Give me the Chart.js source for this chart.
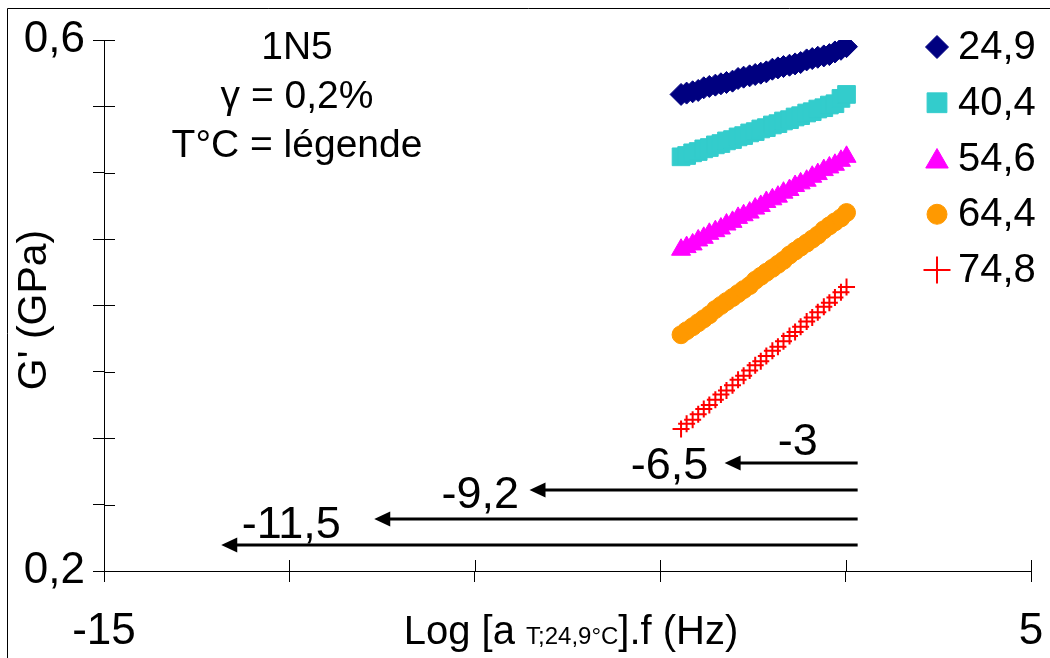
<!DOCTYPE html>
<html><head><meta charset="utf-8">
<script src="https://cdn.jsdelivr.net/npm/chart.js@4/dist/chart.umd.min.js"></script>
<style>html,body{margin:0;padding:0;background:#fff}#wrap{width:1050px;height:658px;position:relative}canvas{display:block}</style>
</head><body><div id="wrap"><canvas id="c" width="1050" height="658"></canvas></div>
<script>
// ---- data ----
const freqLog = [-2.55,-2.43,-2.30,-2.18,-2.06,-1.94,-1.81,-1.69,-1.57,-1.44,-1.32,-1.20,-1.07,-0.95,-0.83,-0.71,-0.58,-0.46,-0.34,-0.21,-0.09,0.03,0.16,0.28,0.40,0.53,0.65,0.77,0.90,1.02];
const g249 = [0.559,0.560,0.561,0.562,0.564,0.565,0.566,0.567,0.568,0.569,0.571,0.572,0.573,0.574,0.575,0.576,0.578,0.579,0.580,0.581,0.582,0.583,0.585,0.586,0.587,0.588,0.589,0.591,0.593,0.595];
const g404 = [0.512,0.513,0.515,0.516,0.518,0.519,0.521,0.522,0.524,0.525,0.527,0.528,0.530,0.531,0.533,0.534,0.536,0.537,0.539,0.540,0.542,0.543,0.545,0.546,0.548,0.549,0.551,0.552,0.556,0.559];
const g546 = [0.442,0.444,0.446,0.449,0.451,0.454,0.456,0.458,0.461,0.463,0.466,0.468,0.470,0.473,0.475,0.478,0.480,0.482,0.485,0.487,0.490,0.492,0.494,0.497,0.499,0.502,0.504,0.506,0.509,0.512];
const g644 = [0.378,0.381,0.384,0.387,0.390,0.393,0.397,0.400,0.403,0.406,0.409,0.412,0.415,0.419,0.422,0.425,0.428,0.431,0.434,0.438,0.441,0.444,0.447,0.450,0.453,0.457,0.460,0.463,0.466,0.470];
const g748 = [0.307,0.311,0.314,0.318,0.322,0.325,0.329,0.333,0.336,0.340,0.344,0.347,0.351,0.355,0.358,0.362,0.366,0.369,0.373,0.377,0.380,0.384,0.388,0.391,0.395,0.399,0.402,0.406,0.410,0.414];
const seriesLabels = ['24,9','40,4','54,6','64,4','74,8'];
const xTickValues = [-15,-11,-7,-3,1,5];
const xTickLabels = ['-15','','','','','5'];
const yTickValues = [0.2,0.25,0.3,0.35,0.4,0.45,0.5,0.55,0.6];
const yTickLabels = ['0,2','','','','','','','','0,6'];
const shiftLabels = ['-3','-6,5','-9,2','-11,5'];
const arrowLevels = [0.2814,0.2610,0.2392,0.2196];
const arrowFrom = [1.26,1.26,1.26,1.26];
const arrowTo = [-1.61,-5.82,-9.17,-12.47];
const shiftLabelX = [-0.03,-2.80,-6.88,-10.96];
const shiftLabelY = [0.297,0.279,0.257,0.234];
const noteLines = ['1N5','\u03B3 = 0,2%','T\u00B0C = l\u00E9gende'];
const yTitle = "G' (GPa)";
const xTitleParts = ['Log [a ', 'T;24,9\u00B0C', '].f (Hz)'];

// ---- styling ----
const FAM = "'Liberation Sans', Arial, sans-serif";
const looks = [
  {color:'#000080', style:'rectRot', r:11,   lr:11.5, bw:1},
  {color:'#33CCCC', style:'rect',    r:12.5, lr:14,   bw:1},
  {color:'#FF00FF', style:'triangle',r:11,   lr:13,   bw:1},
  {color:'#FF9900', style:'circle',  r:9,    lr:10,   bw:1},
  {color:'#FF0000', style:'cross',   r:8.5,  lr:13.5, bw:2}
];
const seriesValues = [g249,g404,g546,g644,g748];

const datasets = seriesValues.map((vals, k) => ({
  label: seriesLabels[k],
  data: freqLog.map((x, i) => ({x: x, y: vals[i]})),
  showLine: false,
  pointStyle: looks[k].style,
  pointRadius: looks[k].r,
  pointHoverRadius: looks[k].r,
  backgroundColor: looks[k].color,
  borderColor: looks[k].color,
  borderWidth: looks[k].bw
}));

function drawMarker(ctx, look, x, y, r) {
  ctx.save();
  ctx.fillStyle = look.color; ctx.strokeStyle = look.color; ctx.lineWidth = look.bw;
  if (Chart.helpers && Chart.helpers.drawPoint) {
    Chart.helpers.drawPoint(ctx, {pointStyle: look.style, radius: r, rotation: 0, borderWidth: look.bw}, x, y);
  }
  ctx.restore();
}
function noPad(s) { s.paddingLeft = 0; s.paddingRight = 0; s.paddingTop = 0; s.paddingBottom = 0; }

const decor = {
  id: 'decor',
  afterDraw(chart) {
    const ctx = chart.ctx, xs = chart.scales.x, ys = chart.scales.y, ca = chart.chartArea;
    ctx.save();
    // outer frame (top + left)
    ctx.strokeStyle = '#000'; ctx.lineWidth = 1;
    ctx.beginPath(); ctx.moveTo(7.5, 658); ctx.lineTo(7.5, 8.5); ctx.lineTo(1050, 8.5); ctx.stroke();
    // inner halves of tick marks
    ctx.beginPath();
    xs.ticks.forEach((t, i) => { const px = Math.round(xs.getPixelForTick(i)) + 0.5; ctx.moveTo(px, ca.bottom); ctx.lineTo(px, ca.bottom - 11); });
    ys.ticks.forEach((t, i) => { const py = Math.round(ys.getPixelForTick(i)) + 0.5; ctx.moveTo(ca.left, py); ctx.lineTo(ca.left + 11, py); });
    ctx.stroke();
    // shift arrows
    ctx.fillStyle = '#000'; ctx.strokeStyle = '#000'; ctx.lineWidth = 3;
    arrowLevels.forEach((lv, i) => {
      const py = ys.getPixelForValue(lv), x0 = xs.getPixelForValue(arrowFrom[i]), x1 = xs.getPixelForValue(arrowTo[i]);
      ctx.beginPath(); ctx.moveTo(x0, py); ctx.lineTo(x1 + 12, py); ctx.stroke();
      ctx.beginPath(); ctx.moveTo(x1, py); ctx.lineTo(x1 + 16, py - 7.5); ctx.lineTo(x1 + 16, py + 7.5); ctx.closePath(); ctx.fill();
    });
    ctx.font = '45px ' + FAM; ctx.textAlign = 'center'; ctx.textBaseline = 'middle';
    shiftLabels.forEach((s, i) => ctx.fillText(s, xs.getPixelForValue(shiftLabelX[i]), ys.getPixelForValue(shiftLabelY[i])));
    // note block
    ctx.font = '39px ' + FAM; ctx.textBaseline = 'alphabetic';
    const noteBase = [59, 108, 157];
    noteLines.forEach((s, i) => ctx.fillText(s, 297, noteBase[i]));
    // legend
    ctx.font = '40px ' + FAM; ctx.textAlign = 'left'; ctx.textBaseline = 'middle';
    seriesLabels.forEach((s, k) => {
      const cy = 47 + k * 55.75;
      const my = looks[k].style === 'triangle' ? cy + 3 : cy;
      drawMarker(ctx, looks[k], 937, my, looks[k].lr);
      ctx.fillStyle = '#000';
      ctx.fillText(s, 958, cy + 1);
    });
    // y title
    ctx.save(); ctx.translate(35, 310); ctx.rotate(-Math.PI / 2);
    ctx.textAlign = 'center'; ctx.textBaseline = 'middle'; ctx.font = '41px ' + FAM;
    ctx.fillText(yTitle, 0, 0); ctx.restore();
    // x title with subscript part
    const big = '40px ' + FAM, small = '24px ' + FAM;
    ctx.textAlign = 'left'; ctx.textBaseline = 'alphabetic';
    ctx.font = big; const w0 = ctx.measureText(xTitleParts[0]).width, w2 = ctx.measureText(xTitleParts[2]).width;
    ctx.font = small; const w1 = ctx.measureText(xTitleParts[1]).width;
    let tx = 571 - (w0 + w1 + w2) / 2; const base = 644;
    ctx.font = big; ctx.fillText(xTitleParts[0], tx, base); tx += w0;
    ctx.font = small; ctx.fillText(xTitleParts[1], tx, base); tx += w1;
    ctx.font = big; ctx.fillText(xTitleParts[2], tx, base);
    ctx.restore();
  }
};

new Chart(document.getElementById('c'), {
  type: 'scatter',
  data: { datasets: datasets },
  options: {
    responsive: false, animation: false,
    layout: { padding: { left: 0, top: 40, right: 19, bottom: 0 } },
    plugins: { legend: { display: false }, tooltip: { enabled: false } },
    scales: {
      x: {
        type: 'linear', min: -15, max: 5,
        afterBuildTicks: s => { s.ticks = xTickValues.map(v => ({value: v})); },
        afterFit: s => { s.height = 87; noPad(s); },
        ticks: { autoSkip: false, maxRotation: 0, padding: 23, color: '#000', font: { family: FAM, size: 44 },
                 callback: (v, i) => xTickLabels[i] },
        grid: { display: true, drawOnChartArea: false, drawTicks: true, tickLength: 11, color: '#000', lineWidth: 1 },
        border: { display: true, color: '#000', width: 1 }
      },
      y: {
        type: 'linear', min: 0.2, max: 0.6,
        afterBuildTicks: s => { s.ticks = yTickValues.map(v => ({value: v})); },
        afterFit: s => { s.width = 104; noPad(s); },
        ticks: { autoSkip: false, padding: 8, color: '#000', font: { family: FAM, size: 44 },
                 callback: (v, i) => yTickLabels[i] },
        grid: { display: true, drawOnChartArea: false, drawTicks: true, tickLength: 11, color: '#000', lineWidth: 1 },
        border: { display: true, color: '#000', width: 1 }
      }
    }
  },
  plugins: [decor]
});
</script></body></html>
